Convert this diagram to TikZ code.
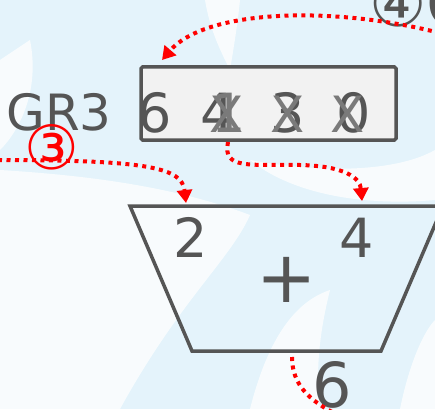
\documentclass[tikz,border=0pt]{standalone}
\usepackage{fontspec}
\setmainfont{DejaVu Sans}
\usetikzlibrary{arrows.meta}
\definecolor{ink}{HTML}{555555}
\definecolor{inklight}{HTML}{7A7A7A}
\definecolor{sky}{HTML}{E4F3FB}
\definecolor{regfill}{HTML}{F2F2F2}
\tikzset{
  x=1pt, y=-1pt,
  txt/.style={inner sep=0pt, anchor=base, text=ink},
  sz/.style={font=\fontsize{#1}{#1}\selectfont},
  flow/.style={draw=red, line width=4pt, dash pattern=on 4pt off 4.5pt,
    -{Triangle[length=13pt,width=15pt]}},
  flowfree/.style={draw=red, line width=4pt, dash pattern=on 4pt off 4.5pt},
  swirl/.style={fill=white, draw=none, opacity=0.75},
}
\begin{document}
\begin{tikzpicture}
\clip (0,0) rectangle (435,409);
\useasboundingbox (0,0) rectangle (435,409);
% background with soft white swirls
\fill[sky] (0,0) rectangle (435,409);
\fill[swirl] (0,170) .. controls (80,175) and (170,185) .. (250,215)
  .. controls (230,260) and (180,300) .. (120,409) -- (0,409) -- cycle;
\fill[swirl] (30,40) .. controls (40,90) and (20,130) .. (0,150) -- (0,60) -- cycle;
\fill[swirl] (205,0) .. controls (210,30) and (220,50) .. (230,70) .. controls (235,40) and (238,20) .. (240,0) -- cycle;
\fill[swirl] (250,409) .. controls (270,330) and (300,300) .. (330,290)
  .. controls (320,330) and (315,370) .. (320,409) -- cycle;
\fill[swirl] (400,409) .. controls (410,360) and (425,330) .. (435,320) -- (435,409) -- cycle;
\fill[swirl] (250,160) .. controls (330,175) and (400,170) .. (435,150) -- (435,200) .. controls (380,205) and (300,200) .. (250,160) -- cycle;

% register box
\node[draw=ink, fill=regfill, line width=3.5pt, rounded corners=1.5pt,
  minimum width=255pt, minimum height=73pt, inner sep=0pt] (reg) at (268.5,103.5) {};
\node[txt, sz=50] (gr3) at (59,130) {GR3};
\node[txt, sz=54] (r6) at (155,132) {6};
\node[txt, sz=54] (r4) at (218,132) {4};
\node[txt, sz=54, text=inklight] (r1) at (229,132) {1};
\node[txt, sz=50, text=inklight] (x4) at (227,132) {X};
\node[txt, sz=54] (r3) at (288,132) {3};
\node[txt, sz=50, text=inklight] (x3) at (288,132) {X};
\node[txt, sz=54] (r0) at (354,132) {0};
\node[txt, sz=50, text=inklight] (x0) at (348,132) {X};

% adder
\coordinate (tl) at (130,206);
\coordinate (tr) at (443,206);
\coordinate (br) at (381,351);
\coordinate (bl) at (192,351);
\draw[ink, line width=3.5pt, line join=miter] (tl) -- (tr) -- (br) -- (bl) -- cycle;
\node[txt, sz=54] (in2) at (191,257) {2};
\node[txt, sz=54] (in4) at (357,257) {4};
\node[inner sep=0pt, text=ink, sz=72] (plus) at (287,280) {+};
\node[txt, sz=62] (out6) at (332,407) {6};

% step labels
\node[inner sep=0pt, text=red, sz=61] (s3) at (52,147) {③};
\node[inner sep=0pt, text=ink, sz=64, anchor=west] (s4) at (369,3) {④C};

% data flow
\coordinate (fromtop) at (440,33);
\coordinate (totop) at (162,60);
\coordinate (fromleft) at (-2,160);
\coordinate (to2) at (186,203);
\coordinate (from1) at (228,142);
\coordinate (to4) at (362,201);
\coordinate (from6) at (292,357);
\coordinate (toout) at (332,412);
\draw[flow] (fromtop) .. controls (330,5) and (205,10) .. (totop);
\draw[flow] (fromleft) .. controls (150,160) and (182,168) .. (to2);
\draw[flow] (from1) .. controls (222,170) and (250,164) .. (300,165)
  .. controls (345,166) and (360,178) .. (to4);
\draw[flowfree] (from6) .. controls (292,385) and (310,400) .. (toout);
\end{tikzpicture}
\end{document}
